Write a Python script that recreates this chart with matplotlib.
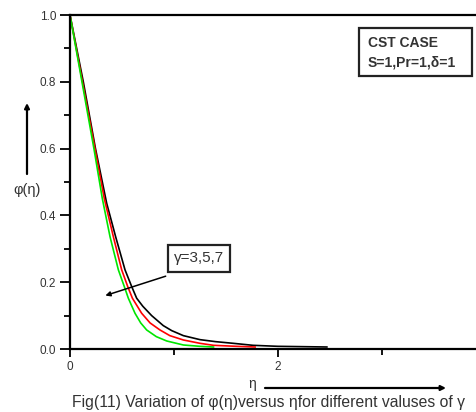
import matplotlib.pyplot as plt
import matplotlib.patches as mpatches
from matplotlib.ticker import MultipleLocator, FixedLocator

plt.rcParams['font.family'] = ['Liberation Sans', 'DejaVu Sans']

# values, gamma = 3, 5, 7
eta_g3 = [0, 0.115, 0.23, 0.311, 0.385, 0.465, 0.522, 0.561, 0.625, 0.68, 0.737, 0.83, 0.93, 1.09, 1.25, 1.38]
phi_g3 = [1.0, 0.80, 0.60, 0.45, 0.336, 0.237, 0.187, 0.152, 0.107, 0.078, 0.057, 0.037, 0.024, 0.012, 0.008, 0.006]

eta_g5 = [0, 0.12, 0.24, 0.33, 0.417, 0.497, 0.555, 0.60, 0.689, 0.77, 0.865, 0.96, 1.09, 1.25, 1.38, 1.60, 1.78]
phi_g5 = [1.0, 0.80, 0.60, 0.45, 0.336, 0.237, 0.187, 0.152, 0.107, 0.078, 0.057, 0.040, 0.027, 0.017, 0.011, 0.008, 0.006]

eta_g7 = [0, 0.128, 0.245, 0.353, 0.439, 0.529, 0.593, 0.641, 0.70, 0.785, 0.897, 0.978, 1.09, 1.25, 1.40, 1.57, 1.76, 2.0, 2.47]
phi_g7 = [1.0, 0.80, 0.60, 0.436, 0.336, 0.237, 0.187, 0.152, 0.128, 0.10, 0.07, 0.055, 0.040, 0.028, 0.022, 0.017, 0.011, 0.008, 0.006]

fig = plt.figure(figsize=(4.76, 4.12), dpi=100)
ax = fig.add_axes([70/476, 63/412, 1 - 70/476, 334/412])

ax.plot(eta_g7, phi_g7, color='black', lw=1.2)
ax.plot(eta_g5, phi_g5, color='#ff0000', lw=1.2)
ax.plot(eta_g3, phi_g3, color='#00e600', lw=1.2)

ax.set_xlim(0, 406/104)
ax.set_ylim(0, 1.0)
ax.spines['right'].set_visible(False)
for s in ['left', 'top', 'bottom']:
    ax.spines[s].set_linewidth(1.6)

ax.xaxis.set_major_locator(FixedLocator([0, 2]))
ax.xaxis.set_minor_locator(FixedLocator([1, 3]))
ax.yaxis.set_major_locator(MultipleLocator(0.2))
ax.yaxis.set_minor_locator(MultipleLocator(0.1))
ax.yaxis.set_major_formatter(plt.FormatStrFormatter('%.1f'))
ax.tick_params(axis='both', which='major', length=7, width=1.3, labelsize=8.5,
               direction='out', labelcolor='#333333')
ax.tick_params(axis='both', which='minor', length=4, width=1.3, direction='out')
ax.tick_params(axis='x', which='both', top=False)
ax.tick_params(axis='x', which='major', pad=3, length=6)
ax.tick_params(axis='y', which='major', pad=3)

# parameter box
ax.add_patch(mpatches.Rectangle((0.712, 0.818), 0.278, 0.143, transform=ax.transAxes,
                                fc='white', ec='#222222', lw=1.6, clip_on=False))
ax.text(0.734, 0.916, 'CST CASE', transform=ax.transAxes, fontsize=10,
        fontweight='bold', color='#333333', va='center', ha='left')
ax.text(0.734, 0.859, 'S=1,Pr=1,\u03b4=1', transform=ax.transAxes, fontsize=10,
        fontweight='bold', color='#333333', va='center', ha='left')

# gamma annotation
ax.annotate('', xy=(0.34, 0.16), xytext=(0.92, 0.218),
            arrowprops=dict(arrowstyle='-|>', color='black', lw=1.1,
                            mutation_scale=7, shrinkA=0, shrinkB=0))
ax.add_patch(mpatches.Rectangle((0.241, 0.231), 0.153, 0.080, transform=ax.transAxes,
                                fc='white', ec='#222222', lw=1.6))
ax.text(0.3175, 0.271, '\u03b3=3,5,7', transform=ax.transAxes, fontsize=11,
        color='#333333', va='center', ha='center')

# axis labels with arrows
fig.text(27/476, 1 - 190/412, '\u03c6(\u03b7)', fontsize=10.5, ha='center', va='center',
         color='#333333')
ax.annotate('', xy=(27/476, 1 - 103/412), xytext=(27/476, 1 - 174/412),
            xycoords='figure fraction', textcoords='figure fraction',
            arrowprops=dict(arrowstyle='-|>', color='black', lw=1.6,
                            mutation_scale=7, shrinkA=0, shrinkB=0))

fig.text(252/476, 1 - 384/412, '\u03b7', fontsize=10, ha='center', va='center',
         color='#333333')
ax.annotate('', xy=(446/476, 1 - 388/412), xytext=(265/476, 1 - 388/412),
            xycoords='figure fraction', textcoords='figure fraction',
            arrowprops=dict(arrowstyle='-|>', color='black', lw=1.6,
                            mutation_scale=7, shrinkA=0, shrinkB=0))

fig.text(268/476, 1 - 403/412,
         'Fig(11) Variation of \u03c6(\u03b7)versus \u03b7for different valuses of \u03b3',
         fontsize=11.3, ha='center', va='center', color='#333333')

fig.savefig('out.png', dpi=100)
